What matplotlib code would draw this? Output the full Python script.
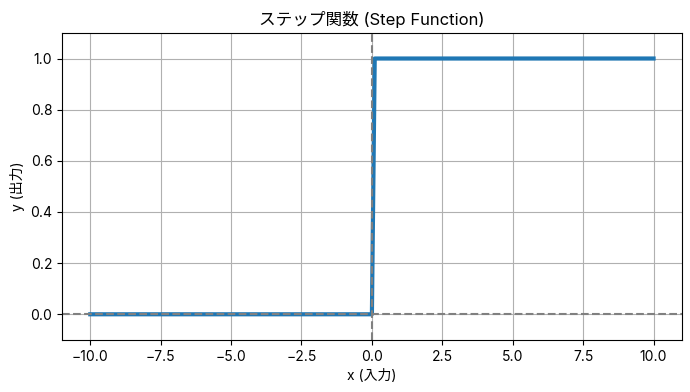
import matplotlib
matplotlib.use("Agg")
import matplotlib.pyplot as plt

plt.rcParams['font.family'] = ['Inter', 'Noto Sans CJK JP', 'DejaVu Sans']
plt.rcParams['axes.unicode_minus'] = True

# Step function values
x_vals = [-10.0, 0.0, 0.1, 10.0]
y_vals = [0.0, 0.0, 1.0, 1.0]

title = "ステップ関数 (Step Function)"
xlabel = "x (入力)"
ylabel = "y (出力)"

fig, ax = plt.subplots(figsize=(6.9, 3.92), dpi=100)
ax.plot(x_vals, y_vals, color='#1f77b4', linewidth=3)
ax.axhline(0, color='gray', linestyle='--')
ax.axvline(0, color='gray', linestyle='--')
ax.set_ylim(-0.1, 1.1)
ax.set_title(title, fontsize=12)
ax.set_xlabel(xlabel, fontsize=10)
ax.set_ylabel(ylabel, fontsize=10)
ax.tick_params(labelsize=10)
ax.grid(True)
fig.subplots_adjust(left=0.09, right=0.988, top=0.916, bottom=0.133)
fig.savefig("out.png", dpi=100)
